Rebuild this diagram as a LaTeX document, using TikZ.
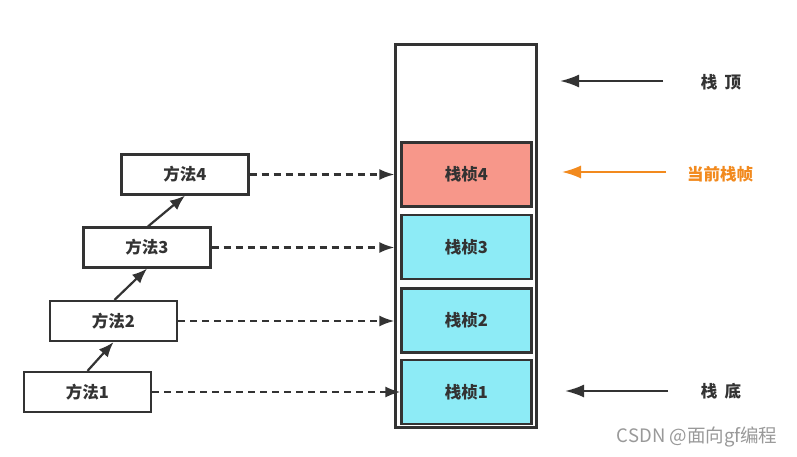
\documentclass[tikz,border=0pt]{standalone}
\usepackage{fontspec}
\setmainfont{Noto Sans CJK SC}
\usetikzlibrary{arrows.meta}
\definecolor{ink}{HTML}{333333}
\definecolor{frameblue}{HTML}{8DEBF6}
\definecolor{framered}{HTML}{F7978A}
\definecolor{curorange}{HTML}{F28A1E}
\tikzset{
  x=1pt, y=-1pt,
  lbl/.style={font=\fontsize{16.5}{18}\selectfont\bfseries, text=ink},
  method/.style={draw=ink, line width=2.2pt, fill=white, minimum width=127pt, minimum height=40pt, inner sep=0pt, lbl},
  frameblk/.style={draw=ink, line width=2.2pt, minimum width=130pt, minimum height=64pt, inner sep=0pt, lbl},
  calls/.style={draw=ink, line width=2.2pt, -{Latex[length=15pt,width=12pt]}},
  links/.style={draw=ink, line width=2.2pt, dash pattern=on 7pt off 5pt, -{Latex[length=15pt,width=11pt]}},
  pointer/.style={draw=ink, line width=2.2pt, -{Latex[length=19pt,width=13pt]}},
}
\begin{document}
\begin{tikzpicture}
\useasboundingbox (0,0) rectangle (797,457);
\fill[white] (0,0) rectangle (797,457);

% stack container
\node[draw=ink, line width=2.2pt, minimum width=141pt, minimum height=383pt, inner sep=0pt] (stack) at (466,236) {};

% stack frames
\node[frameblk, fill=framered]  (f4) at (466.5,174.5) {栈桢4};
\node[frameblk, fill=frameblue] (f3) at (466.5,247)   {栈桢3};
\node[frameblk, fill=frameblue] (f2) at (466.5,320.5) {栈桢2};
\node[frameblk, fill=frameblue] (f1) at (466.5,392)   {栈桢1};

% methods
\node[method] (m4) at (185,174.5) {方法4};
\node[method] (m3) at (147,247.5) {方法3};
\node[method] (m2) at (113.5,321) {方法2};
\node[method] (m1) at (87.5,392)  {方法1};

% call chain
\draw[calls] (m1.north) -- (m2.south);
\draw[calls] ([xshift=1pt]m2.north) -- (m3.south);
\draw[calls] ([xshift=1pt]m3.north) -- (m4.south);

% method -> frame links
\coordinate (t4) at (stack.west |- m4.east);
\coordinate (t3) at (stack.west |- m3.east);
\coordinate (t2) at (stack.west |- m2.east);
\coordinate (t1) at (f1.west |- m1.east);
\draw[links] (m4.east) -- (t4);
\draw[links] (m3.east) -- (t3);
\draw[links] (m2.east) -- (t2);
\draw[links] (m1.east) -- (t1);

% pointers on the right
\node[lbl] (top) at (721,82) {栈\hspace{0.45em}顶};
\node[lbl, text=curorange] (cur) at (720,174) {当前栈帧};
\node[lbl] (bot) at (721,391) {栈\hspace{0.45em}底};
\coordinate (ptop) at (663,81);
\coordinate (pcur) at (666,172);
\coordinate (pbot) at (668,391);
\draw[pointer] (ptop) -- (560,81);
\draw[pointer, draw=curorange, line width=1.8pt] (pcur) -- (562,172);
\draw[pointer] (pbot) -- (565,391);

% watermark
\node[anchor=east, text=black!40, font=\fontsize{18.5}{20}\selectfont] (wm) at (781,437) {CSDN @面向gf编程};
\end{tikzpicture}
\end{document}
